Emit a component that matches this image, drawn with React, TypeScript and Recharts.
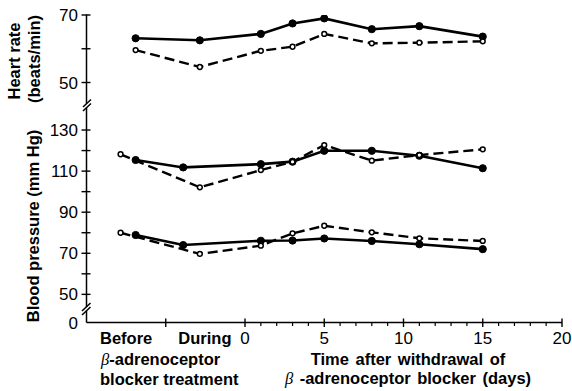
import React from 'react';
import { LineChart, Line, XAxis, YAxis } from 'recharts';

// days after withdrawal
const days = [1, 3, 5, 8, 11, 15];

// x placement (axis units) of the "Before" / "During" readings, then the days
const hrX = [-6.9, -2.85, ...days];
const bpSolidX = [-6.9, -3.9, ...days];
const bpOpenX = [-7.85, -2.85, ...days];

// heart rate (beats/min)
const hrSolid = [63.1, 62.5, 64.4, 67.5, 69.0, 65.8, 66.7, 63.6];
const hrOpen = [59.6, 54.6, 59.4, 60.6, 64.4, 61.6, 61.8, 62.2];

// systolic blood pressure (mm Hg)
const sysSolid = [115.4, 111.8, 113.4, 114.6, 119.9, 119.9, 117.5, 111.4];
const sysOpen = [118.2, 102.1, 110.5, 114.5, 122.7, 115.1, 117.8, 120.6];

// diastolic blood pressure (mm Hg)
const diaSolid = [78.9, 74.0, 76.1, 76.2, 77.2, 76.0, 74.4, 72.0];
const diaOpen = [80.0, 69.7, 73.7, 79.7, 83.4, 80.2, 77.3, 76.0];

const hrTicks = [50, 60, 70];
const bpTicks = [50, 60, 70, 80, 90, 100, 110, 120, 130];
const dayTicks = [-5, 0, 1, 2, 3, 4, 5, 6, 7, 8, 9, 10, 11, 12, 13, 14, 15, 16, 17, 18, 19, 20];

const hrDomain: [number, number] = [-21.1, 70];
const bpDomain: [number, number] = [36.3, 186];

const toPoints = (xs: number[], ys: number[]) => xs.map((x, i) => ({ x, value: ys[i] }));

const FONT = '"Liberation Sans", Arial, Helvetica, sans-serif';
const W = 572;
const H = 391;
const AX = 86.5;
const AY = 322.5;

const YTick = (labelled: number[]) => (props: any) => {
  const { y, payload } = props;
  const v = payload.value;
  const isFloor = v === bpDomain[0];
  const label = isFloor ? '0' : labelled.includes(v) ? String(v) : '';
  return (
    <g>
      {!isFloor && <line x1={AX - 5} x2={AX + 4} y1={y} y2={y} stroke="#000" strokeWidth={1.4} />}
      {label && (
        <text x={AX - 8.5} y={y + 6} textAnchor="end" fontSize={17} fontFamily={FONT} fill="#000">
          {label}
        </text>
      )}
    </g>
  );
};

const XTick = (props: any) => {
  const { x, payload } = props;
  const v = payload.value;
  const major = v % 5 === 0;
  return (
    <g>
      {major ? (
        <line x1={x} x2={x} y1={AY - 4} y2={AY + 4.5} stroke="#000" strokeWidth={1.4} />
      ) : (
        <line x1={x} x2={x} y1={AY} y2={AY + 3.5} stroke="#000" strokeWidth={1.2} />
      )}
      {major && v >= 0 && (
        <text x={x} y={AY + 21.5} textAnchor="middle" fontSize={17} fontFamily={FONT} fill="#000">
          {v}
        </text>
      )}
    </g>
  );
};

const solidDot = { r: 3.6, fill: '#000', stroke: '#000', strokeWidth: 1, strokeDasharray: '0' };
const openDot = { r: 2.4, fill: '#fff', stroke: '#000', strokeWidth: 1.5, strokeDasharray: '0' };

const boldText = { fontFamily: FONT, fontWeight: 700, fontSize: 16.5, fill: '#000' } as const;
const beta = <tspan fontFamily='"Liberation Serif", serif' fontStyle="italic" fontWeight={400}>β</tspan>;

export default function App() {
  return (
    <div style={{ position: 'absolute', left: 0, top: 0, width: W, height: H, background: '#fff' }}>
      <LineChart width={W} height={H} margin={{ top: 15, right: 10, bottom: H - AY - 1, left: AX - 2 }}>
        <XAxis
          type="number"
          dataKey="x"
          domain={[-10, 20]}
          ticks={dayTicks}
          interval={0}
          height={1}
          tickSize={0}
          tickMargin={0}
          tickLine={false}
          axisLine={{ stroke: '#000', strokeWidth: 1.5 }}
          tick={XTick}
          allowDataOverflow
        />
        <YAxis
          yAxisId="hr"
          type="number"
          domain={hrDomain}
          ticks={hrTicks}
          interval={0}
          width={1}
          tickSize={0}
          tickMargin={0}
          tickLine={false}
          axisLine={false}
          tick={YTick([50, 70])}
          allowDataOverflow
        />
        <YAxis
          yAxisId="bp"
          type="number"
          domain={bpDomain}
          ticks={[bpDomain[0], ...bpTicks]}
          interval={0}
          width={1}
          tickSize={0}
          tickMargin={0}
          tickLine={false}
          axisLine={false}
          tick={YTick([50, 70, 90, 110, 130])}
          allowDataOverflow
        />
        <Line yAxisId="hr" data={toPoints(hrX, hrSolid)} dataKey="value" stroke="#000" strokeWidth={2.6} dot={solidDot} isAnimationActive={false} />
        <Line yAxisId="bp" data={toPoints(bpSolidX, sysSolid)} dataKey="value" stroke="#000" strokeWidth={2.6} dot={solidDot} isAnimationActive={false} />
        <Line yAxisId="bp" data={toPoints(bpSolidX, diaSolid)} dataKey="value" stroke="#000" strokeWidth={2.6} dot={solidDot} isAnimationActive={false} />
        <Line yAxisId="hr" data={toPoints(hrX, hrOpen)} dataKey="value" stroke="#000" strokeWidth={2.4} strokeDasharray="10 5" dot={openDot} isAnimationActive={false} />
        <Line yAxisId="bp" data={toPoints(bpOpenX, sysOpen)} dataKey="value" stroke="#000" strokeWidth={2.4} strokeDasharray="10 5" dot={openDot} isAnimationActive={false} />
        <Line yAxisId="bp" data={toPoints(bpOpenX, diaOpen)} dataKey="value" stroke="#000" strokeWidth={2.4} strokeDasharray="10 5" dot={openDot} isAnimationActive={false} />
      </LineChart>

      {/* axis pieces, breaks and titles */}
      <svg width={W} height={H} style={{ position: 'absolute', left: 0, top: 0, pointerEvents: 'none' }}>
        <g stroke="#000" strokeWidth={1.5}>
          <line x1={AX} x2={AX} y1={14.5} y2={103.7} />
          <line x1={AX} x2={AX} y1={107.7} y2={307} />
          <line x1={AX} x2={AX} y1={311} y2={AY} />
          <line x1={83} y1={107} x2={91} y2={99.5} />
          <line x1={83} y1={111} x2={91} y2={103.5} />
          <line x1={82} y1={311} x2={90.5} y2={303} />
          <line x1={82} y1={315} x2={90.5} y2={307} />
        </g>
        <text transform="translate(20,61) rotate(-90)" textAnchor="middle" {...boldText}>Heart rate</text>
        <text transform="translate(39.5,59) rotate(-90)" textAnchor="middle" {...boldText}>(beats/min)</text>
        <text transform="translate(39,226) rotate(-90)" textAnchor="middle" {...boldText}>Blood pressure (mm Hg)</text>

        <text x={100} y={344} {...boldText}>Before</text>
        <text x={178.3} y={344} {...boldText}>During</text>
        <text x={101} y={365} {...boldText}>{beta}-adrenoceptor</text>
        <text x={100} y={385} {...boldText}>blocker treatment</text>

        <text x={408} y={365} textAnchor="middle" {...boldText} wordSpacing={2}>Time after withdrawal of</text>
        <text x={408} y={384} textAnchor="middle" {...boldText} wordSpacing={2}>{beta} -adrenoceptor blocker (days)</text>
      </svg>
    </div>
  );
}
